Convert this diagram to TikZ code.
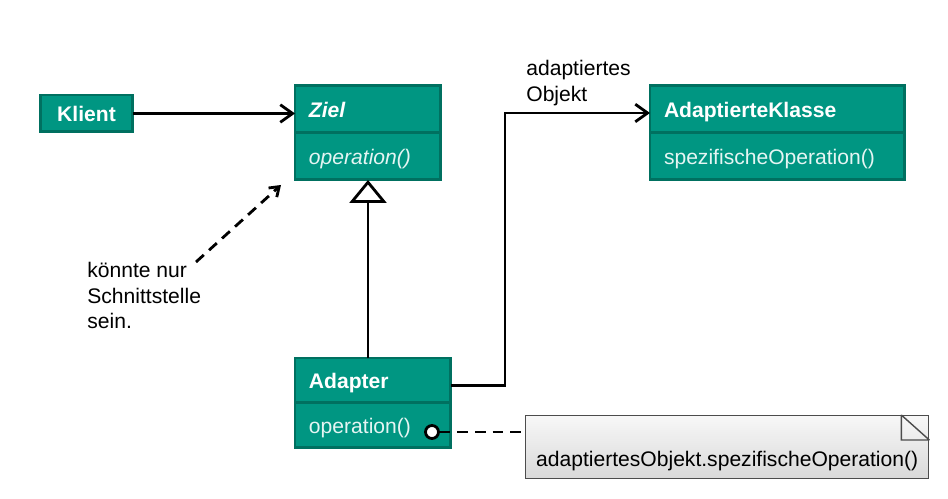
\documentclass[tikz,border=0pt,12pt]{standalone}
\usepackage{fontspec}
\setmainfont{Liberation Sans}
\usetikzlibrary{arrows.meta,positioning}
\definecolor{klassegruen}{RGB}{0,150,130}
\definecolor{klasserand}{RGB}{0,112,96}
\begin{document}
\begin{tikzpicture}[x=0.02cm,y=-0.02cm,
	box/.style={draw=klasserand,fill=klassegruen,line width=1.7pt,outer sep=0pt,text=white,font=\bfseries},
	kopf/.style={box,inner xsep=0.28cm,inner ysep=0pt,text width=#1,text depth=0pt,align=left,minimum height=0.94cm},
	rumpf/.style={kopf=#1,font=\normalfont,text=white!90!klassegruen},
	pfeil/.style={line width=1.6pt,-{Straight Barb[length=7pt,width=10pt]}},
	erbt/.style={line width=1.6pt,-{Triangle[open,length=0.46cm,width=0.74cm,fill=white]}},
	hinweis/.style={line width=1.6pt,dash pattern=on 6pt off 4pt},
	kreis/.style={circle,draw=black,fill=white,line width=1.6pt,minimum size=0.26cm,inner sep=0pt},
	notiz/.style={draw=gray!60!black,line width=0.8pt,top color=gray!6,bottom color=gray!30,
		inner sep=0pt,minimum width=8.06cm,minimum height=1.26cm,text height=0.88cm,text depth=0.1cm}]
	\useasboundingbox (0,0) rectangle (948,499);
	% Klassen
	\node[box,minimum width=1.86cm,minimum height=0.74cm,inner sep=0pt] (klient) at (86.5,113.5) {Klient};
	\node[kopf=2.36cm,anchor=north west] (ziel) at (295,86) {\textit{Ziel}};
	\node[rumpf=2.36cm,below=0pt of ziel] (zielop) {\textit{operation()}};
	\node[kopf=4.54cm,anchor=north west] (klasse) at (650,86) {AdaptierteKlasse};
	\node[rumpf=4.54cm,below=0pt of klasse] (klasseop) {spezifischeOperation()};
	\node[kopf=2.56cm,anchor=north west,minimum height=0.9cm] (adapter) at (295,358) {Adapter};
	\node[rumpf=2.56cm,below=0pt of adapter,minimum height=0.9cm] (adapterop) {operation()};
	% Verbindungen
	\draw[pfeil] (klient.east) -- (klient.east -| ziel.west);
	\draw[erbt] (adapter.north -| zielop.south) -- (zielop.south);
	\coordinate (knick) at (505,113);
	\draw[pfeil] ([yshift=-0.1cm]adapter.east) -| (knick) -- (knick -| klasse.west);
	\node[anchor=north west,align=left,inner sep=0pt] (rolle) at (526,60) {adaptiertes\\Objekt};
	% Hinweis
	\node[anchor=north west,align=left,inner sep=0pt] (hinweistext) at (87,262) {könnte nur\\Schnittstelle\\sein.};
	\coordinate (hw1) at (196,262);
	\coordinate (hw2) at (281,185);
	\draw[hinweis,-{Straight Barb[length=5pt,width=7pt]}] (hw1) -- (hw2);
	% Notiz
	\node[kreis] (punkt) at (432,432) {};
	\node[notiz,anchor=north west] (notiz) at (525,415) {adaptiertesObjekt.spezifischeOperation()};
	\draw[gray!60!black,line width=0.8pt] ([xshift=-0.56cm]notiz.north east) |- ([yshift=-0.5cm]notiz.north east)
		([xshift=-0.56cm]notiz.north east) -- ([yshift=-0.5cm]notiz.north east);
	\draw[hinweis] (punkt) -- (punkt -| notiz.west);
\end{tikzpicture}
\end{document}
